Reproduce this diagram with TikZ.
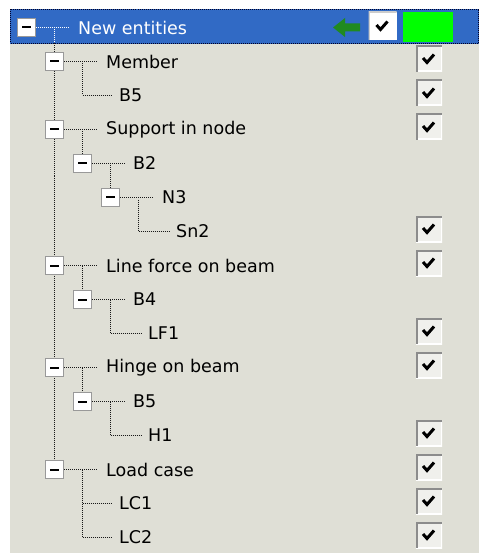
\documentclass[tikz,border=0pt]{standalone}
\usepackage{fontspec}
\setmainfont{DejaVu Sans}
\usetikzlibrary{calc,backgrounds}
\definecolor{bg}{HTML}{DFDFD6}
\definecolor{sel}{HTML}{316AC5}
\definecolor{arrowgreen}{HTML}{208A20}
\definecolor{chkfill}{HTML}{F0F0EC}
\definecolor{sunk}{HTML}{8C8C8C}
\tikzset{
  x=1pt,y=-1pt,
  tbox/.style={draw=black!40, fill=white, minimum size=18pt, inner sep=0pt, line width=1pt,
    path picture={\draw[line width=2pt,black] ([xshift=-4.5pt]path picture bounding box.center) -- ++(9pt,0pt);}},
  lbl/.style={anchor=west, inner sep=0pt, font=\fontsize{17.5}{20}\selectfont, text=black},
  tline/.style={draw=black!90, line width=1pt, dash pattern=on 1pt off 1pt},
  chk/.style={fill=chkfill, minimum size=26pt, inner sep=0pt,
    path picture={
      \draw[white,line width=3pt] (path picture bounding box.south west) -- (path picture bounding box.south east) -- (path picture bounding box.north east);
      \draw[sunk,line width=3pt] (path picture bounding box.south west) -- (path picture bounding box.north west) -- (path picture bounding box.north east);
      \draw[black,line width=3pt,line join=miter] ([shift={(-6pt,1pt)}]path picture bounding box.center) -- ++(4pt,-4.5pt) -- ++(7pt,8pt);
    }},
}
\begin{document}
\begin{tikzpicture}
\useasboundingbox (0,0) rectangle (479,553);
% tree boxes and labels
\node[tbox] (b0) at (26.5,27.5) {};
\node[lbl,text=white] (t0) at (78,27.5) {New entities};
\node[tbox] (b1) at (54.5,61.5) {};
\node[lbl] (t1) at (106,61.5) {Member};
\node[lbl] (t2) at (119,95.5) {B5};
\node[tbox] (b3) at (54.5,129.5) {};
\node[lbl] (t3) at (106,129.5) {Support in node};
\node[tbox] (b4) at (82.5,163.5) {};
\node[lbl] (t4) at (133,163.5) {B2};
\node[tbox] (b5) at (110.5,197.5) {};
\node[lbl] (t5) at (162,197.5) {N3};
\node[lbl] (t6) at (176,231.5) {Sn2};
\node[tbox] (b7) at (54.5,265.5) {};
\node[lbl] (t7) at (106,265.5) {Line force on beam};
\node[tbox] (b8) at (82.5,299.5) {};
\node[lbl] (t8) at (133,299.5) {B4};
\node[lbl] (t9) at (148,333.5) {LF1};
\node[tbox] (b10) at (54.5,367.5) {};
\node[lbl] (t10) at (106,367.5) {Hinge on beam};
\node[tbox] (b11) at (82.5,401.5) {};
\node[lbl] (t11) at (133,401.5) {B5};
\node[lbl] (t12) at (148,435.5) {H1};
\node[tbox] (b13) at (54.5,469.5) {};
\node[lbl] (t13) at (106,469.5) {Load case};
\node[lbl] (t14) at (119,503.5) {LC1};
\node[lbl] (t15) at (119,537.5) {LC2};
% header items
\node[fill=white, minimum size=28pt, inner sep=0pt,
  path picture={
    \draw[white!80!black,line width=2pt] (path picture bounding box.south west) -- (path picture bounding box.north west) -- (path picture bounding box.north east);
    \draw[black,line width=3pt,line join=miter] ([shift={(-6pt,1pt)}]path picture bounding box.center) -- ++(4pt,-4.5pt) -- ++(7pt,8pt);
  }] (c0) at (382.5,26) {};
\node[fill=green, minimum width=50pt, minimum height=30pt, inner sep=0pt] (g0) at (428,27) {};
\fill[arrowgreen] (333,27.5) -- (345,18) -- (345,23.5) -- (360,23.5) -- (360,31.5) -- (345,31.5) -- (345,37) -- cycle;
% checkboxes
\foreach \n/\yy in {1/61,2/95,3/129,6/231,7/265,9/333,10/367,12/435,13/469,14/503,15/537}{
  \node[chk] (c\n) at (429,\yy-2) {};
}
\begin{pgfonlayer}{background}
  \fill[white] (0,0) rectangle (479,553);
  \fill[bg] (10,9) rectangle (479,553);
  \fill[sel] (10,9) rectangle (479,44);
  \draw[black!85!blue, line width=1pt, dash pattern=on 1pt off 1pt] (10.5,9.5) rectangle (478.5,43.5);
  % root connectors
  \draw[tline,draw=white] (b0.east) -- ($(t0.west)+(-9,0)$);
  \draw[tline] ($(b0.center)+(28,0)$) -- (b13.center);
  \draw[tline,draw=white] ($(b0.center)+(28,0)$) -- ($(b0.center)+(28,16)$);
  % Member
  \draw[tline] (b1.east) -- ($(t1.west)+(-9,0)$);
  \draw[tline] ($(b1.center)+(28,0)$) |- ($(t2.west)+(-7,0)$);
  % Support in node
  \draw[tline] (b3.east) -- ($(t3.west)+(-9,0)$);
  \draw[tline] ($(b3.center)+(28,0)$) -- (b4.center);
  \draw[tline] (b4.east) -- ($(t4.west)+(-8,0)$);
  \draw[tline] ($(b4.center)+(28,0)$) -- (b5.center);
  \draw[tline] (b5.east) -- ($(t5.west)+(-8,0)$);
  \draw[tline] ($(b5.center)+(28,0)$) |- ($(t6.west)+(-7,0)$);
  % Line force on beam
  \draw[tline] (b7.east) -- ($(t7.west)+(-9,0)$);
  \draw[tline] ($(b7.center)+(28,0)$) -- (b8.center);
  \draw[tline] (b8.east) -- ($(t8.west)+(-8,0)$);
  \draw[tline] ($(b8.center)+(28,0)$) |- ($(t9.west)+(-7,0)$);
  % Hinge on beam
  \draw[tline] (b10.east) -- ($(t10.west)+(-9,0)$);
  \draw[tline] ($(b10.center)+(28,0)$) -- (b11.center);
  \draw[tline] (b11.east) -- ($(t11.west)+(-8,0)$);
  \draw[tline] ($(b11.center)+(28,0)$) |- ($(t12.west)+(-7,0)$);
  % Load case
  \draw[tline] (b13.east) -- ($(t13.west)+(-9,0)$);
  \draw[tline] ($(b13.center)+(28,0)$) |- ($(t15.west)+(-7,0)$);
  \draw[tline] ($(b13.center |- t14.west)+(28,0)$) -- ($(t14.west)+(-7,0)$);
\end{pgfonlayer}
\end{tikzpicture}
\end{document}
